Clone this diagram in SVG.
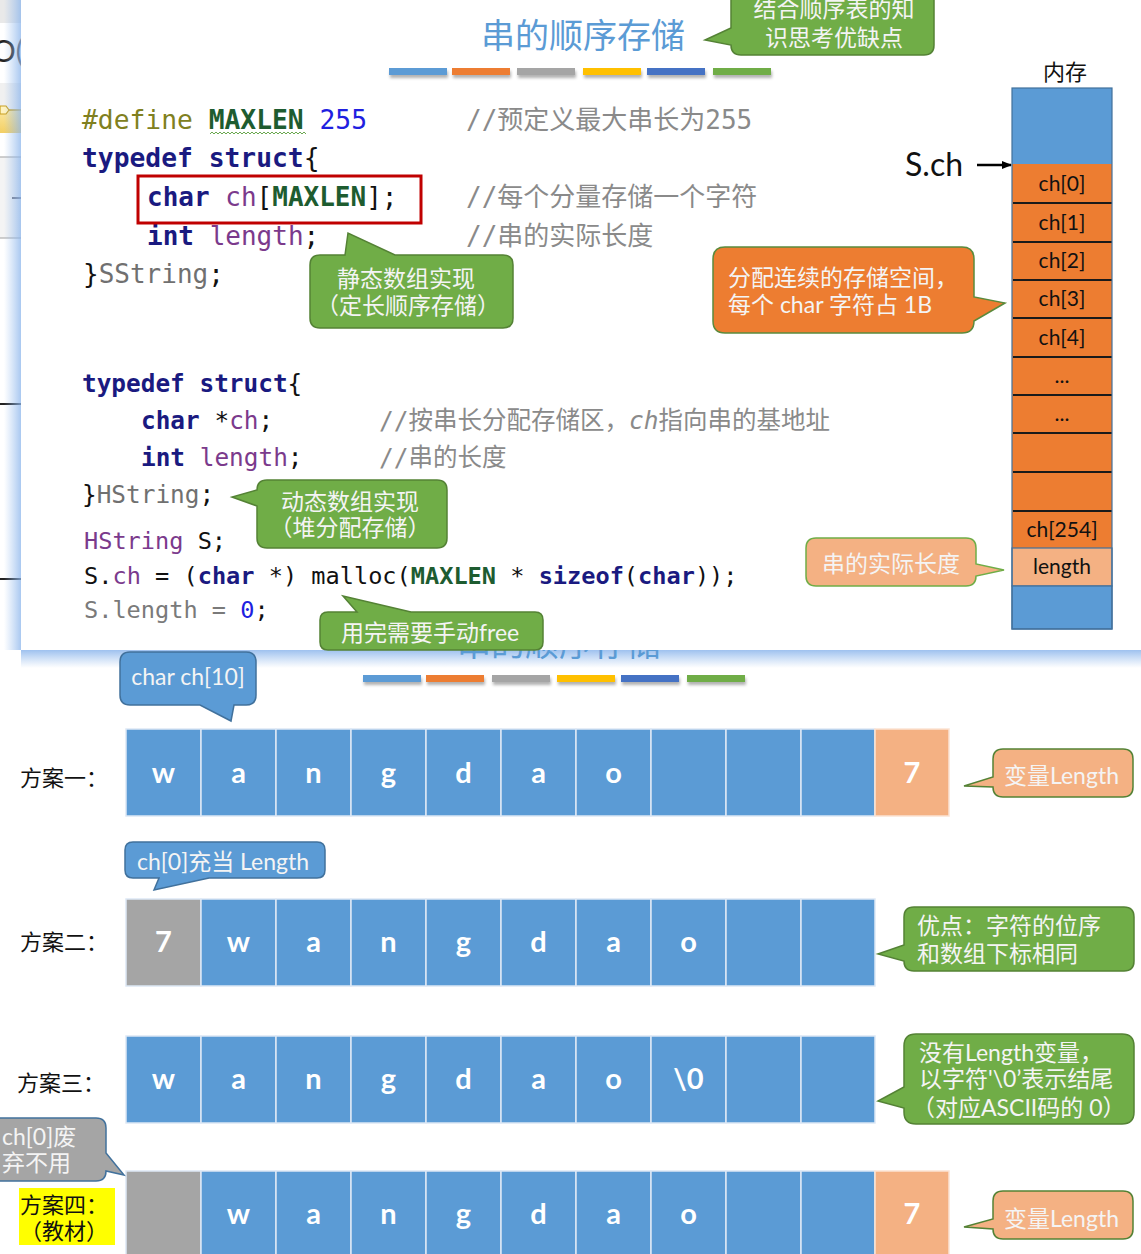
<svg xmlns="http://www.w3.org/2000/svg" width="1141" height="1254" viewBox="0 0 1141 1254">
<style>
.code{font-family:"DejaVu Sans Mono",monospace;fill:#111}
.kw{fill:#1a1a80;font-weight:bold}
.mac{fill:#1e5c30;font-weight:bold}
.var{fill:#7b3a8c}
.typ{fill:#707070}
.num{fill:#2020e0}
.pre{fill:#808020}
.gry{fill:#7a7a7a}
.cmt{font-family:"DejaVu Sans Mono","Noto Sans CJK SC",monospace;fill:#8a8a8a;text-spacing-trim:space-all}
.ct{font-family:"Lato","Noto Sans CJK SC",sans-serif;fill:#f4f4f4;font-size:23px;text-spacing-trim:space-all}
.title{font-family:"Noto Sans CJK SC",sans-serif;fill:#5b9bd5;font-size:34px;text-anchor:middle}
.lbl{font-family:"Noto Sans CJK SC",sans-serif;fill:#111;font-size:22px;text-spacing-trim:space-all}
.g{fill:#70ad47;stroke:#548235;stroke-width:1.5}
.o{fill:#ed7d31;stroke:#5b8a3c;stroke-width:1.5}
.lo{fill:#f4b183;stroke:#548235;stroke-width:1.5}
.b{fill:#5b9bd5;stroke:#41719c;stroke-width:1.5}
.gy{fill:#a5a5a5;stroke:#41719c;stroke-width:1.5}
.cb{fill:#5b9bd5;stroke:#dde8f5;stroke-width:1.5}
.cg{fill:#a5a5a5;stroke:#dde8f5;stroke-width:1.5}
.co{fill:#f4b183;stroke:#fbe3d3;stroke-width:1.5}
.lt{font-family:"Lato","Noto Sans CJK SC",sans-serif;font-weight:bold;font-size:29px;fill:#fff;text-anchor:middle}
.mem{font-family:"Lato",sans-serif;font-size:21px;fill:#111;text-anchor:middle}
.sep{stroke:#1a1a1a;stroke-width:2}
</style>
<defs>
<linearGradient id="shL" x1="0" x2="1" y1="0" y2="0"><stop offset="0" stop-color="#9cc0ee" stop-opacity="0"/><stop offset="1" stop-color="#8db6ec" stop-opacity="0.75"/></linearGradient>
<linearGradient id="shB" x1="0" x2="0" y1="0" y2="1"><stop offset="0" stop-color="#8db6ec" stop-opacity="0.85"/><stop offset="1" stop-color="#9cc0ee" stop-opacity="0"/></linearGradient>
<linearGradient id="yel" x1="0" x2="0" y1="0" y2="1"><stop offset="0" stop-color="#fbe7a0"/><stop offset="1" stop-color="#f3cf63"/></linearGradient>
<filter id="bsh" x="-10%" y="-50%" width="130%" height="250%"><feDropShadow dx="1" dy="3" stdDeviation="1.5" flood-color="#000" flood-opacity="0.3"/></filter>
<clipPath id="lowclip"><rect x="0" y="650" width="1141" height="60"/></clipPath>
<marker id="arr" markerWidth="10" markerHeight="8" refX="9" refY="4" orient="auto" markerUnits="userSpaceOnUse"><path d="M0,0 L10,4 L0,8 z" fill="#000"/></marker>
</defs>
<rect x="0" y="0" width="1141" height="1254" fill="#fff"/>

<!-- background window strip on the far left -->
<g id="background-window">
<rect x="0" y="0" width="21" height="23" fill="#e9e9e9"/>
<text x="-25" y="62" font-family="Lato,sans-serif" font-size="30" fill="#222">TO(</text>
<rect x="0" y="83" width="21" height="27" fill="#f0f0f0"/>
<rect x="0" y="110" width="21" height="23" fill="url(#yel)"/>
<line x1="0" y1="110" x2="21" y2="110" stroke="#c9a020" stroke-width="1.5"/>
<path d="M0,106 L6,106 L9,110 L6,114 L0,114 Z" fill="#fff3c0" stroke="#c9a020" stroke-width="1.2"/>
<rect x="0" y="157" width="21" height="81" fill="#f4f4f4"/>
<line x1="0" y1="157" x2="21" y2="157" stroke="#b0b0b0" stroke-width="1.2"/>
<line x1="0" y1="238" x2="21" y2="238" stroke="#b0b0b0" stroke-width="1.2"/>
<line x1="12" y1="198" x2="21" y2="198" stroke="#445" stroke-width="1.5"/>
<line x1="0" y1="404" x2="21" y2="404" stroke="#222" stroke-width="2"/>
<line x1="0" y1="579" x2="21" y2="579" stroke="#222" stroke-width="2"/>
</g>

<!-- panel shadow -->
<rect x="4" y="0" width="17" height="650" fill="url(#shL)"/>
<rect x="21" y="650" width="1120" height="18" fill="url(#shB)"/>

<!-- lower slide -->
<g id="lower-slide-title">
<text class="title" x="559" y="656" clip-path="url(#lowclip)">串的顺序存储</text>
<g filter="url(#bsh)">
<rect x="363" y="675" width="58" height="7" fill="#5b9bd5"/>
<rect x="426" y="675" width="58" height="7" fill="#ed7d31"/>
<rect x="492" y="675" width="58" height="7" fill="#a5a5a5"/>
<rect x="557" y="675" width="58" height="7" fill="#ffc000"/>
<rect x="621" y="675" width="58" height="7" fill="#4472c4"/>
<rect x="687" y="675" width="58" height="7" fill="#70ad47"/>
</g>
</g>

<g id="scheme1">
<text class="lbl" x="20" y="786">方案一：</text>
<rect class="cb" x="126" y="729" width="75" height="87"/>
<rect class="cb" x="201" y="729" width="75" height="87"/>
<rect class="cb" x="276" y="729" width="75" height="87"/>
<rect class="cb" x="351" y="729" width="75" height="87"/>
<rect class="cb" x="426" y="729" width="75" height="87"/>
<rect class="cb" x="501" y="729" width="75" height="87"/>
<rect class="cb" x="576" y="729" width="75" height="87"/>
<rect class="cb" x="651" y="729" width="75" height="87"/>
<rect class="cb" x="726" y="729" width="75" height="87"/>
<rect class="cb" x="801" y="729" width="74" height="87"/>
<rect class="co" x="875" y="729" width="74" height="87"/>
<text class="lt" x="163.5" y="783">w</text>
<text class="lt" x="238.5" y="783">a</text>
<text class="lt" x="313.5" y="783">n</text>
<text class="lt" x="388.5" y="783">g</text>
<text class="lt" x="463.5" y="783">d</text>
<text class="lt" x="538.5" y="783">a</text>
<text class="lt" x="613.5" y="783">o</text>
<text class="lt" x="912" y="783">7</text>
</g>

<g id="scheme2">
<text class="lbl" x="20" y="950">方案二：</text>
<rect class="cg" x="126" y="899" width="75" height="87"/>
<rect class="cb" x="201" y="899" width="75" height="87"/>
<rect class="cb" x="276" y="899" width="75" height="87"/>
<rect class="cb" x="351" y="899" width="75" height="87"/>
<rect class="cb" x="426" y="899" width="75" height="87"/>
<rect class="cb" x="501" y="899" width="75" height="87"/>
<rect class="cb" x="576" y="899" width="75" height="87"/>
<rect class="cb" x="651" y="899" width="75" height="87"/>
<rect class="cb" x="726" y="899" width="75" height="87"/>
<rect class="cb" x="801" y="899" width="74" height="87"/>
<text class="lt" x="163.5" y="952">7</text>
<text class="lt" x="238.5" y="952">w</text>
<text class="lt" x="313.5" y="952">a</text>
<text class="lt" x="388.5" y="952">n</text>
<text class="lt" x="463.5" y="952">g</text>
<text class="lt" x="538.5" y="952">d</text>
<text class="lt" x="613.5" y="952">a</text>
<text class="lt" x="688.5" y="952">o</text>
</g>

<g id="scheme3">
<text class="lbl" x="17" y="1091">方案三：</text>
<rect class="cb" x="126" y="1036" width="75" height="87"/>
<rect class="cb" x="201" y="1036" width="75" height="87"/>
<rect class="cb" x="276" y="1036" width="75" height="87"/>
<rect class="cb" x="351" y="1036" width="75" height="87"/>
<rect class="cb" x="426" y="1036" width="75" height="87"/>
<rect class="cb" x="501" y="1036" width="75" height="87"/>
<rect class="cb" x="576" y="1036" width="75" height="87"/>
<rect class="cb" x="651" y="1036" width="75" height="87"/>
<rect class="cb" x="726" y="1036" width="75" height="87"/>
<rect class="cb" x="801" y="1036" width="74" height="87"/>
<text class="lt" x="163.5" y="1089">w</text>
<text class="lt" x="238.5" y="1089">a</text>
<text class="lt" x="313.5" y="1089">n</text>
<text class="lt" x="388.5" y="1089">g</text>
<text class="lt" x="463.5" y="1089">d</text>
<text class="lt" x="538.5" y="1089">a</text>
<text class="lt" x="613.5" y="1089">o</text>
<text class="lt" x="688.5" y="1089">\0</text>
</g>

<g id="scheme4">
<rect x="19" y="1188" width="96" height="57" fill="#ffff00"/>
<text class="lbl" x="20" y="1213" font-size="21.5">方案四：</text>
<text class="lbl" x="20" y="1239" font-size="21.5">（教材）</text>
<rect class="cg" x="126" y="1171" width="75" height="87"/>
<rect class="cb" x="201" y="1171" width="75" height="87"/>
<rect class="cb" x="276" y="1171" width="75" height="87"/>
<rect class="cb" x="351" y="1171" width="75" height="87"/>
<rect class="cb" x="426" y="1171" width="75" height="87"/>
<rect class="cb" x="501" y="1171" width="75" height="87"/>
<rect class="cb" x="576" y="1171" width="75" height="87"/>
<rect class="cb" x="651" y="1171" width="75" height="87"/>
<rect class="cb" x="726" y="1171" width="75" height="87"/>
<rect class="cb" x="801" y="1171" width="74" height="87"/>
<rect class="co" x="875" y="1171" width="74" height="87"/>
<text class="lt" x="238.5" y="1224">w</text>
<text class="lt" x="313.5" y="1224">a</text>
<text class="lt" x="388.5" y="1224">n</text>
<text class="lt" x="463.5" y="1224">g</text>
<text class="lt" x="538.5" y="1224">d</text>
<text class="lt" x="613.5" y="1224">a</text>
<text class="lt" x="688.5" y="1224">o</text>
<text class="lt" x="912" y="1224">7</text>
</g>

<g id="callout-char-ch10">
<path class="b" d="M130,652 H246 Q256,652 256,662 V695 Q256,705 246,705 H234 L231,721 L200,705 H130 Q120,705 120,695 V662 Q120,652 130,652 Z"/>
<text class="ct" x="188" y="685" font-size="21" text-anchor="middle">char ch[10]</text>
</g>
<g id="callout-length-1">
<path class="lo" d="M1003,749 H1123 Q1133,749 1133,759 V787 Q1133,797 1123,797 H1003 Q993,797 993,787 L964,786 L993,777 V759 Q993,749 1003,749 Z"/>
<text class="ct" x="1004" y="784">变量Length</text>
</g>
<g id="callout-ch0">
<path class="b" d="M133,842 H317 Q325,842 325,850 V870 Q325,878 317,878 H209 L154,890 L159,878 H133 Q125,878 125,870 V850 Q125,842 133,842 Z"/>
<text class="ct" x="137" y="870" font-size="21">ch[0]充当 Length</text>
</g>
<g id="callout-advantage">
<path class="g" d="M914,907 H1124 Q1134,907 1134,917 V961 Q1134,971 1124,971 H914 Q904,971 904,961 L878,954 L904,945 V917 Q904,907 914,907 Z"/>
<text class="ct" x="917" y="934">优点：字符的位序</text>
<text class="ct" x="917" y="962">和数组下标相同</text>
</g>
<g id="callout-no-length">
<path class="g" d="M916,1034 H1122 Q1134,1034 1134,1046 V1112 Q1134,1124 1122,1124 H916 Q904,1124 904,1112 V1108 L878,1101 L904,1087 V1046 Q904,1034 916,1034 Z"/>
<text class="ct" x="919" y="1061" font-size="22.5">没有Length变量，</text>
<text class="ct" x="919" y="1087" font-size="22.5">以字符'\0’表示结尾</text>
<text class="ct" x="912" y="1116" font-size="22.5">（对应ASCII码的 0）</text>
</g>
<g id="callout-waste">
<path class="gy" d="M-10,1118 H96 Q106,1118 106,1128 V1153 L124,1175 L106,1171 Q106,1181 96,1181 H-10 Z"/>
<text class="ct" x="2" y="1145" font-size="22">ch[0]废</text>
<text class="ct" x="2" y="1171" font-size="22">弃不用</text>
</g>
<g id="callout-length-4">
<path class="lo" d="M1003,1191 H1123 Q1133,1191 1133,1201 V1229 Q1133,1239 1123,1239 H1003 Q993,1239 993,1229 L964,1227 L993,1219 V1201 Q993,1191 1003,1191 Z"/>
<text class="ct" x="1004" y="1227">变量Length</text>
</g>

<!-- top overlay panel -->
<g id="overlay-panel">
<rect x="21" y="-2" width="1125" height="652" fill="#fff"/>
</g>

<g id="top-title">
<text class="title" x="583" y="48">串的顺序存储</text>
<g filter="url(#bsh)">
<rect x="389" y="68" width="58" height="7" fill="#5b9bd5"/>
<rect x="452" y="68" width="58" height="7" fill="#ed7d31"/>
<rect x="517" y="68" width="58" height="7" fill="#a5a5a5"/>
<rect x="583" y="68" width="58" height="7" fill="#ffc000"/>
<rect x="647" y="68" width="58" height="7" fill="#4472c4"/>
<rect x="713" y="68" width="58" height="7" fill="#70ad47"/>
</g>
</g>

<g id="callout-think">
<path class="g" d="M741,-15 H924 Q934,-15 934,-5 V45 Q934,55 924,55 H741 Q731,55 731,45 L705,40 L731,28 V-5 Q731,-15 741,-15 Z"/>
<text class="ct" x="834" y="17" font-size="23.5" text-anchor="middle">结合顺序表的知</text>
<text class="ct" x="834" y="46" font-size="23.5" text-anchor="middle">识思考优缺点</text>
</g>

<g id="code-sstring">
<text class="code" x="82" y="129" font-size="26.3"><tspan class="pre">#define</tspan> <tspan class="mac">MAXLEN</tspan> <tspan class="num">255</tspan></text>
<path d="M210,134 l2,-2 l2,2 l2,-2 l2,2 l2,-2 l2,2 l2,-2 l2,2 l2,-2 l2,2 l2,-2 l2,2 l2,-2 l2,2 l2,-2 l2,2 l2,-2 l2,2 l2,-2 l2,2 l2,-2 l2,2 l2,-2 l2,2 l2,-2 l2,2 l2,-2 l2,2 l2,-2 l2,2 l2,-2 l2,2 l2,-2 l2,2 l2,-2 l2,2 l2,-2 l2,2 l2,-2 l2,2 l2,-2 l2,2 l2,-2 l2,2 l2,-2 l2,2 l2,-2 l2,2" fill="none" stroke="#6aa84f" stroke-width="1"/>
<text class="code" x="82" y="167" font-size="26.3"><tspan class="kw">typedef struct</tspan>{</text>
<text class="code" x="147" y="206" font-size="26"><tspan class="kw">char</tspan> <tspan class="var">ch</tspan>[<tspan class="mac">MAXLEN</tspan>];</text>
<text class="code" x="147" y="245" font-size="26"><tspan class="kw">int</tspan> <tspan class="var">length</tspan>;</text>
<text class="code" x="83" y="283" font-size="26">}<tspan class="typ">SString</tspan>;</text>
<text class="cmt" x="466" y="129" font-size="26">//预定义最大串长为255</text>
<text class="cmt" x="466" y="206" font-size="26">//每个分量存储一个字符</text>
<text class="cmt" x="466" y="245" font-size="26">//串的实际长度</text>
<rect x="138" y="176" width="283" height="47" fill="none" stroke="#c00000" stroke-width="3"/>
</g>

<g id="callout-static">
<path class="g" d="M320,255 H345 L348,233 L395,255 H503 Q513,255 513,265 V318 Q513,328 503,328 H320 Q310,328 310,318 V265 Q310,255 320,255 Z"/>
<text class="ct" x="406" y="287" font-size="23.5" text-anchor="middle">静态数组实现</text>
<text class="ct" x="408" y="314" font-size="23.5" text-anchor="middle">（定长顺序存储）</text>
</g>

<g id="code-hstring">
<text class="code" x="82" y="392" font-size="24.4"><tspan class="kw">typedef struct</tspan>{</text>
<text class="code" x="141" y="429" font-size="24.4"><tspan class="kw">char</tspan> *<tspan class="var">ch</tspan>;</text>
<text class="code" x="141" y="466" font-size="24.4"><tspan class="kw">int</tspan> <tspan class="var">length</tspan>;</text>
<text class="code" x="82" y="503" font-size="24.4">}<tspan class="typ">HString</tspan>;</text>
<text class="cmt" x="379" y="429" font-size="24.5">//按串长分配存储区，<tspan font-style="italic">ch</tspan>指向串的基地址</text>
<text class="cmt" x="379" y="466" font-size="24.5">//串的长度</text>
<text class="code" x="84" y="549" font-size="23.6"><tspan class="var">HString</tspan> S;</text>
<text class="code" x="84" y="584" font-size="23.6">S.<tspan class="var">ch</tspan> = (<tspan class="kw">char</tspan> *) malloc(<tspan class="mac">MAXLEN</tspan> * <tspan class="kw">sizeof</tspan>(<tspan class="kw">char</tspan>));</text>
<text class="code" x="84" y="618" font-size="23.6"><tspan class="gry">S.length = </tspan><tspan class="num">0</tspan>;</text>
</g>

<g id="callout-dynamic">
<path class="g" d="M267,480 H437 Q447,480 447,490 V538 Q447,548 437,548 H267 Q257,548 257,538 V506 L232,497 L257,490 Q257,480 267,480 Z"/>
<text class="ct" x="350" y="510" font-size="23.5" text-anchor="middle">动态数组实现</text>
<text class="ct" x="350" y="536" font-size="23.5" text-anchor="middle">（堆分配存储）</text>
</g>

<g id="callout-free">
<path class="g" d="M328,612 H357 L343,596 L411,612 H535 Q543,612 543,620 V642 Q543,650 535,650 H328 Q320,650 320,642 V620 Q320,612 328,612 Z"/>
<text class="ct" x="341" y="641" font-size="23">用完需要手动free</text>
</g>

<g id="memory">
<text class="lbl" x="1065" y="80" text-anchor="middle" fill="#222">内存</text>
<rect x="1012" y="88" width="100" height="76" fill="#5b9bd5"/>
<rect x="1012" y="164" width="100" height="384" fill="#ed7d31"/>
<line class="sep" x1="1013" y1="203" x2="1112" y2="203"/>
<line class="sep" x1="1013" y1="242" x2="1112" y2="242"/>
<line class="sep" x1="1013" y1="280" x2="1112" y2="280"/>
<line class="sep" x1="1013" y1="318" x2="1112" y2="318"/>
<line class="sep" x1="1013" y1="357" x2="1112" y2="357"/>
<line class="sep" x1="1013" y1="395" x2="1112" y2="395"/>
<line class="sep" x1="1013" y1="433" x2="1112" y2="433"/>
<line class="sep" x1="1013" y1="472" x2="1112" y2="472"/>
<line class="sep" x1="1013" y1="511" x2="1112" y2="511"/>
<rect x="1012" y="548" width="100" height="38" fill="#f4b183" stroke="#41719c" stroke-width="1.2"/>
<rect x="1012" y="586" width="100" height="43" fill="#5b9bd5" stroke="#41719c" stroke-width="1.2"/>
<rect x="1012" y="88" width="100" height="541" fill="none" stroke="#41719c" stroke-width="1.2"/>
<text class="mem" x="1062" y="191">ch[0]</text>
<text class="mem" x="1062" y="230">ch[1]</text>
<text class="mem" x="1062" y="268">ch[2]</text>
<text class="mem" x="1062" y="306">ch[3]</text>
<text class="mem" x="1062" y="345">ch[4]</text>
<text class="mem" x="1062" y="383" fill="#fff" font-size="16">...</text>
<text class="mem" x="1062" y="421" fill="#fff" font-size="16">...</text>
<text class="mem" x="1062" y="537">ch[254]</text>
<text class="mem" x="1062" y="574" fill="#fff">length</text>
</g>

<g id="pointer-sch">
<text x="905" y="176" font-family="Lato,sans-serif" font-size="32" fill="#111">S.ch</text>
</g>

<g id="callout-alloc">
<path class="o" d="M725,247 H962 Q974,247 974,259 V297 L1005,303 L974,321 Q974,333 962,333 H725 Q713,333 713,321 V259 Q713,247 725,247 Z"/>
<text class="ct" x="728" y="286" font-size="22.5">分配连续的存储空间，</text>
<text class="ct" x="728" y="313" font-size="22.5">每个 char 字符占 1B</text>
</g>

<g id="callout-actual-length">
<path class="lo" d="M816,538 H966 Q976,538 976,548 V564 L1004,570 L976,576 Q976,586 966,586 H816 Q806,586 806,576 V548 Q806,538 816,538 Z" style="stroke:#70ad47"/>
<text class="ct" x="891" y="572" font-size="23.5" text-anchor="middle">串的实际长度</text>
</g>

<g id="connectors">
<line x1="977" y1="165" x2="1011" y2="165" stroke="#000" stroke-width="2.5" marker-end="url(#arr)"/>
</g>
</svg>
